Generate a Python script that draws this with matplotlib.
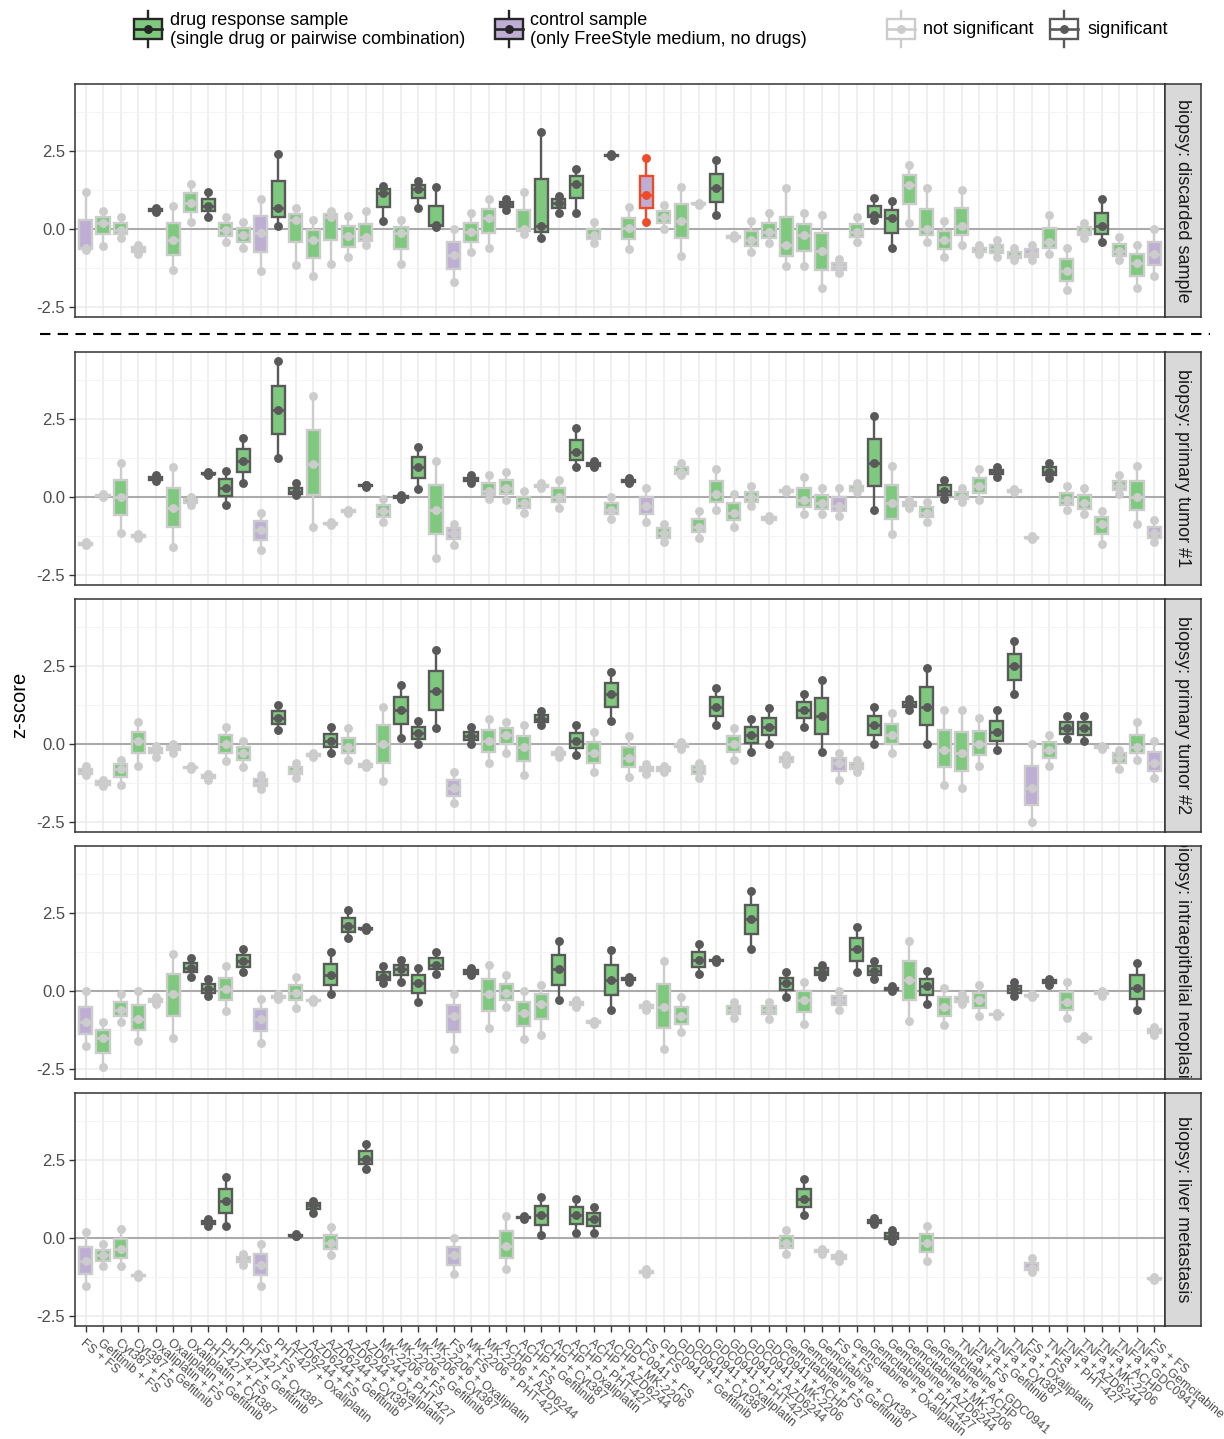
import matplotlib
matplotlib.use("Agg")
import matplotlib.pyplot as plt
import numpy as np
from matplotlib.patches import Rectangle

plt.rcParams["font.family"] = ["Liberation Sans", "DejaVu Sans"]

# ---------------------------------------------------------------------------
# Conditions (x axis) and per-biopsy z-scores (three replicates: low/mid/high)
# sig: n = not significant, s = significant, x = flagged control, . = no data
# ---------------------------------------------------------------------------

LABELS = [
    "FS + FS", "Gefitinib + FS", "Cyt387 + FS", "Cyt387 + Gefitinib",
    "Oxaliplatin + FS", "Oxaliplatin + Gefitinib", "Oxaliplatin + Cyt387",
    "PHT-427 + FS", "PHT-427 + Gefitinib", "PHT-427 + Cyt387", "FS + FS",
    "PHT-427 + Oxaliplatin", "AZD6244 + FS", "AZD6244 + Gefitinib",
    "AZD6244 + Cyt387", "AZD6244 + Oxaliplatin", "AZD6244 + PHT-427",
    "MK-2206 + FS", "MK-2206 + Gefitinib", "MK-2206 + Cyt387",
    "MK-2206 + Oxaliplatin", "FS + FS", "MK-2206 + PHT-427",
    "MK-2206 + AZD6244", "ACHP + FS", "ACHP + Gefitinib", "ACHP + Cyt387",
    "ACHP + Oxaliplatin", "ACHP + PHT-427", "ACHP + AZD6244",
    "ACHP + MK-2206", "GDC0941 + FS", "FS + FS", "GDC0941 + Gefitinib",
    "GDC0941 + Cyt387", "GDC0941 + Oxaliplatin", "GDC0941 + PHT-427",
    "GDC0941 + AZD6244", "GDC0941 + MK-2206", "GDC0941 + ACHP",
    "Gemcitabine + FS", "Gemcitabine + Gefitinib", "Gemcitabine + Cyt387",
    "FS + FS", "Gemcitabine + Oxaliplatin", "Gemcitabine + PHT-427",
    "Gemcitabine + AZD6244", "Gemcitabine + MK-2206", "Gemcitabine + ACHP",
    "Gemcitabine + GDC0941", "TNFa + FS", "TNFa + Gefitinib",
    "TNFa + Cyt387", "TNFa + Oxaliplatin", "FS + FS", "TNFa + PHT-427",
    "TNFa + AZD6244", "TNFa + MK-2206", "TNFa + ACHP", "TNFa + GDC0941",
    "TNFa + Gemcitabine", "FS + FS",
]

STRIPS = [
    "biopsy: discarded sample",
    "biopsy: primary tumor #1",
    "biopsy: primary tumor #2",
    "biopsy: intraepithelial neoplasia",
    "biopsy: liver metastasis",
]

DISC_LO = [-0.66, -0.53, -0.30, -0.81, 0.55, -1.31, 0.24, 0.40, -0.40, -0.62,
           -1.34, 0.10, -1.15, -1.50, -1.13, -0.91, -0.51, 0.26, -1.12, 0.69,
           0.07, -1.71, -0.75, -0.60, 0.60, -0.15, -0.30, 0.50, 0.50, -0.45,
           2.33, -0.65, 0.24, 0.00, -0.85, 0.78, 0.45, -0.30, -0.75, -0.45,
           -1.20, -1.20, -1.90, -1.40, -0.40, 0.30, -0.60, 0.20, -0.40, -0.90,
           -0.50, -0.80, -0.90, -1.00, -1.00, -0.80, -1.95, -0.30, -0.40, -1.00,
           -1.90, -1.50]
DISC_MED = [-0.62, 0.18, -0.02, -0.65, 0.60, -0.35, 0.85, 0.74, -0.03, -0.20,
            -0.14, 0.66, 0.29, -0.35, 0.40, -0.22, -0.25, 1.16, -0.14, 1.28,
            0.13, -0.83, -0.10, 0.35, 0.80, 0.00, 0.10, 0.85, 1.46, -0.20,
            2.36, 0.02, 1.10, 0.37, 0.25, 0.80, 1.30, -0.25, -0.35, -0.10,
            -0.50, -0.20, -0.70, -1.20, -0.10, 0.45, 0.35, 1.40, 0.00, -0.35,
            0.10, -0.70, -0.65, -0.85, -0.80, -0.40, -1.35, -0.10, 0.10, -0.70,
            -1.10, -0.80]
DISC_HI = [1.18, 0.58, 0.40, -0.52, 0.68, 0.75, 1.43, 1.20, 0.40, 0.24,
           0.96, 2.40, 0.66, 0.30, 0.58, 0.43, 0.58, 1.38, 0.29, 1.55,
           1.34, 0.00, 0.50, 0.95, 0.95, 1.20, 3.10, 1.05, 1.91, 0.23,
           2.40, 0.71, 2.27, 0.77, 1.36, 0.84, 2.21, -0.20, 0.25, 0.50,
           1.30, 0.50, 0.45, -0.95, 0.40, 1.00, 0.90, 2.05, 1.30, 0.25,
           1.25, -0.50, -0.35, -0.60, -0.50, 0.45, -0.60, 0.20, 0.95, -0.25,
           -0.50, 0.00]
DISC_SIG = "nnnnsnnsnn" "nsnnnnnsns" "snnnsnsssn" "snxnnnsnnn" "nnnnnssnnn" "nnnnnnnnsn" "nn"

TUM1_LO = [-1.55, 0.00, -1.15, -1.30, 0.50, -1.60, -0.25, 0.70, -0.25, 0.45,
           -1.70, 1.25, 0.05, -0.95, -0.90, -0.50, 0.33, -0.80, -0.05, 0.25,
           -1.95, -1.55, 0.45, -0.05, -0.10, -0.50, 0.30, -0.35, 0.95, 0.95,
           -0.70, 0.45, -0.80, -1.45, 0.70, -1.30, -0.40, -0.95, -0.30, -0.75,
           0.15, -0.55, -0.55, -0.60, 0.15, -0.40, -1.20, -0.35, -0.80, -0.05,
           -0.15, -0.10, 0.65, 0.15, -1.35, 0.60, -0.40, -0.55, -1.50, 0.10,
           -0.85, -1.45]
TUM1_MED = [-1.50, 0.05, 0.00, -1.25, 0.60, -0.35, -0.15, 0.75, 0.30, 1.15,
            -1.05, 2.80, 0.15, 1.05, -0.85, -0.45, 0.37, -0.45, 0.00, 0.95,
            -0.40, -1.15, 0.55, 0.20, 0.30, -0.20, 0.35, 0.00, 1.45, 1.05,
            -0.40, 0.50, -0.30, -1.15, 0.80, -0.95, 0.10, -0.50, 0.00, -0.70,
            0.20, -0.10, -0.20, -0.30, 0.25, 1.10, -0.20, -0.20, -0.50, 0.20,
            0.00, 0.35, 0.80, 0.20, -1.30, 0.80, -0.10, -0.20, -0.85, 0.35,
            0.00, -1.15]
TUM1_HI = [-1.45, 0.10, 1.10, -1.20, 0.70, 0.95, 0.00, 0.80, 0.85, 1.90,
           -0.50, 4.35, 0.45, 3.25, -0.80, -0.40, 0.40, -0.05, 0.05, 1.60,
           1.15, -0.85, 0.70, 0.70, 0.80, 0.20, 0.45, 0.55, 2.20, 1.15,
           0.00, 0.60, 0.30, -0.85, 1.10, -0.45, 0.90, 0.10, 0.35, -0.60,
           0.25, 0.65, 0.30, 0.30, 0.45, 2.60, 1.00, -0.10, -0.15, 0.55,
           0.30, 0.90, 0.95, 0.25, -1.25, 1.10, 0.35, 0.30, -0.45, 0.70,
           1.00, -0.75]
TUM1_SIG = "nnnnsnnsss" "nssnnnsnss" "nnsnnnnnss" "nsnnnnnnnn" "nnnnnsnnns" "nnsnnsnnnn" "nn"

TUM2_LO = [-1.00, -1.35, -1.30, -0.70, -0.40, -0.30, -0.80, -1.15, -0.55, -0.75,
           -1.45, 0.45, -1.10, -0.40, -0.30, -0.50, -0.75, -1.20, 0.20, 0.00,
           0.50, -1.90, 0.00, -0.60, -0.30, -1.00, 0.60, -0.40, -0.35, -0.90,
           0.75, -1.05, -0.95, -0.90, -0.15, -1.10, 0.60, -0.50, -0.25, 0.00,
           -0.65, 0.55, -0.25, -1.15, -0.90, 0.00, -0.30, 1.10, 0.00, -1.30,
           -1.40, -0.70, -0.20, 1.60, -2.50, -0.70, 0.15, 0.10, -0.15, -0.80,
           -0.50, -1.10]
TUM2_MED = [-0.90, -1.25, -0.80, 0.10, -0.20, -0.10, -0.75, -1.05, 0.00, -0.30,
            -1.25, 0.85, -0.85, -0.35, 0.10, -0.10, -0.70, 0.00, 1.10, 0.35,
            1.70, -1.40, 0.25, 0.10, 0.30, -0.10, 0.80, -0.30, 0.10, -0.30,
            1.60, -0.45, -0.80, -0.80, -0.05, -0.80, 1.20, 0.00, 0.30, 0.55,
            -0.50, 1.10, 0.90, -0.60, -0.70, 0.60, 0.30, 1.25, 1.20, -0.20,
            -0.30, 0.00, 0.40, 2.50, -1.40, -0.20, 0.50, 0.50, -0.10, -0.40,
            -0.10, -0.60]
TUM2_HI = [-0.70, -1.15, -0.50, 0.70, -0.05, 0.00, -0.70, -0.95, 0.55, 0.10,
           -1.00, 1.25, -0.60, -0.30, 0.55, 0.50, -0.60, 1.20, 1.90, 0.75,
           3.00, -0.90, 0.55, 0.80, 0.70, 0.60, 1.05, -0.20, 0.60, 0.40,
           2.30, 0.25, -0.65, -0.70, 0.05, -0.60, 1.80, 0.50, 0.80, 1.15,
           -0.35, 1.60, 2.05, -0.30, -0.50, 1.20, 1.00, 1.45, 2.45, 1.10,
           1.10, 0.85, 1.10, 3.30, 0.00, 0.30, 0.90, 0.90, -0.05, -0.20,
           0.70, 0.10]
TUM2_SIG = "nnnnnnnnnn" "nsnnsnnnss" "snsnnnsnsn" "snnnnnsnss" "nssnnsnssn" "nnssnnssnn" "nn"

NEO_LO = [-1.75, -2.45, -1.00, -1.60, -0.40, -1.50, 0.45, -0.15, -0.65, 0.60,
          -1.65, -0.25, -0.55, -0.35, -0.10, 1.70, 1.95, 0.25, 0.30, -0.35,
          0.55, -1.85, 0.50, -1.20, -0.50, -1.55, -1.40, -0.30, -0.50, -1.05,
          -0.60, 0.30, -0.60, -1.85, -1.30, 0.55, 0.93, -0.85, 1.35, -0.90,
          -0.20, -1.05, 0.45, -0.60, 0.60, 0.40, 0.00, -0.95, -0.40, -1.10,
          -0.40, -0.80, -0.80, -0.15, -0.20, 0.20, -0.85, -1.55, -0.15, None,
          -0.60, -1.40]
NEO_MED = [-1.00, -1.50, -0.60, -0.90, -0.30, -0.10, 0.75, 0.05, 0.05, 0.95,
           -0.90, -0.20, -0.05, -0.30, 0.50, 2.10, 2.00, 0.45, 0.70, 0.25,
           0.85, -0.80, 0.60, -0.10, -0.05, -0.70, -0.40, 0.70, -0.40, -1.00,
           0.35, 0.38, -0.50, -0.50, -0.80, 1.00, 0.98, -0.60, 2.30, -0.60,
           0.25, -0.30, 0.60, -0.30, 1.35, 0.65, 0.07, 0.35, 0.15, -0.50,
           -0.30, -0.30, -0.75, 0.05, -0.15, 0.30, -0.35, -1.50, -0.05, None,
           0.10, -1.30]
NEO_HI = [0.00, -1.00, -0.10, 0.00, -0.20, 1.20, 1.05, 0.40, 0.80, 1.35,
          -0.25, -0.10, 0.45, -0.25, 1.25, 2.60, 2.05, 0.80, 1.00, 0.75,
          1.25, -0.10, 0.75, 0.85, 0.50, 0.00, 0.20, 1.60, -0.30, -0.95,
          1.30, 0.45, -0.40, 0.95, -0.20, 1.50, 1.02, -0.35, 3.20, -0.35,
          0.60, 0.30, 0.85, 0.00, 2.05, 0.95, 0.15, 1.60, 0.65, 0.10,
          -0.10, 0.20, -0.70, 0.30, -0.10, 0.40, 0.30, -1.45, 0.00, None,
          0.90, -1.15]
NEO_SIG = "nnnnnnssns" "nnnnssssss" "snsnnnnsnn" "ssnnnssnsn" "snsnsssnsn" "nnnsnsnnn." "sn"

LIV_LO = [-1.55, -0.90, -0.90, -1.25, None, None, None, 0.40, 0.40, -0.85,
          -1.55, None, 0.05, 0.80, -0.55, None, 2.20, None, None, None,
          None, -1.15, None, None, -1.00, 0.62, 0.10, None, 0.15, 0.15,
          None, None, -1.15, None, None, None, None, None, None, None,
          -0.50, 0.75, -0.50, -0.75, None, 0.45, -0.10, None, -0.75, None,
          None, None, None, None, -1.10, None, None, None, None, None,
          None, -1.35]
LIV_MED = [-0.75, -0.55, -0.35, -1.20, None, None, None, 0.50, 1.20, -0.70,
           -0.85, None, 0.08, 1.05, -0.15, None, 2.55, None, None, None,
           None, -0.55, None, None, -0.25, 0.66, 0.75, None, 0.75, 0.60,
           None, None, -1.10, None, None, None, None, None, None, None,
           -0.15, 1.25, -0.40, -0.60, None, 0.50, 0.05, None, -0.15, None,
           None, None, None, None, -0.95, None, None, None, None, None,
           None, -1.30]
LIV_HI = [0.20, -0.20, 0.30, -1.15, None, None, None, 0.60, 1.95, -0.50,
          -0.20, None, 0.12, 1.20, 0.35, None, 3.00, None, None, None,
          None, 0.00, None, None, 0.70, 0.70, 1.30, None, 1.25, 1.00,
          None, None, -1.00, None, None, None, None, None, None, None,
          0.25, 1.90, -0.35, -0.50, None, 0.65, 0.25, None, 0.40, None,
          None, None, None, None, -0.65, None, None, None, None, None,
          None, -1.25]
LIV_SIG = "nnnn...ssn" "n.ssn.s..." ".n..nss.ss" "..n......." "nsnn.ss.n." "....n....." ".n"

PANELS = [
    (DISC_LO, DISC_MED, DISC_HI, DISC_SIG),
    (TUM1_LO, TUM1_MED, TUM1_HI, TUM1_SIG),
    (TUM2_LO, TUM2_MED, TUM2_HI, TUM2_SIG),
    (NEO_LO, NEO_MED, NEO_HI, NEO_SIG),
    (LIV_LO, LIV_MED, LIV_HI, LIV_SIG),
]

GREEN = "#7FC97F"
PURPLE = "#BEAED4"
EDGE = {"n": "#CCCCCC", "s": "#595959", "x": "#EE4B2B"}
TEXT = "#4D4D4D"

# ---------------------------------------------------------------------------
# Layout (pixel coordinates of the final 1224 x 1439 image)
# ---------------------------------------------------------------------------
W, H = 1224, 1439
PANEL_L, PANEL_R, STRIP_R = 75, 1165, 1201
ROWS = [(84, 317), (352, 585), (599, 832), (846, 1079), (1093, 1326)]
YLIM = (-2.82, 4.65)
BOX_W = 0.75


def rect(x0, y0, x1, y1):
    return [x0 / W, 1 - y1 / H, (x1 - x0) / W, (y1 - y0) / H]


def draw_panel(ax, lo, med, hi, sig, show_x):
    n = len(LABELS)
    for x in range(n):
        ax.axvline(x, color="#EBEBEB", lw=1.1, zorder=0)
    for y in (-2.5, 0.0, 2.5):
        ax.axhline(y, color="#EBEBEB", lw=1.1, zorder=0)
    for y in (-1.25, 1.25, 3.75):
        ax.axhline(y, color="#F3F3F3", lw=0.6, zorder=0)
    ax.axhline(0, color="#ABABAB", lw=1.5, zorder=1)

    for i in range(n):
        if sig[i] == "." or med[i] is None:
            continue
        vals = np.array([lo[i], med[i], hi[i]], dtype=float)
        q1, q2, q3 = np.percentile(vals, [25, 50, 75])
        ec = EDGE[sig[i]]
        fc = PURPLE if LABELS[i] == "FS + FS" else GREEN
        ax.plot([i, i], [vals.min(), q1], color=ec, lw=1.7, zorder=2,
                solid_capstyle="butt")
        ax.plot([i, i], [q3, vals.max()], color=ec, lw=1.7, zorder=2,
                solid_capstyle="butt")
        ax.add_patch(Rectangle((i - BOX_W / 2, q1), BOX_W, q3 - q1,
                               facecolor=fc, edgecolor=ec, lw=1.7, zorder=3))
        ax.plot([i - BOX_W / 2, i + BOX_W / 2], [q2, q2], color=ec, lw=1.9,
                zorder=4, solid_capstyle="butt")
        ax.plot([i] * 3, vals, "o", ms=6.4, color=ec, mec="none", zorder=5)

    ax.set_xlim(-0.6, n - 0.4)
    ax.set_ylim(*YLIM)
    ax.set_yticks([-2.5, 0.0, 2.5])
    ax.set_yticklabels(["-2.5", "0.0", "2.5"], fontsize=12, color=TEXT)
    ax.tick_params(axis="y", length=4, width=1, color="#333333", pad=3)
    ax.set_xticks(range(n))
    if show_x:
        ax.set_xticklabels(LABELS, rotation=-40, ha="left", va="top",
                           rotation_mode="anchor", fontsize=9, color=TEXT)
        ax.tick_params(axis="x", length=4, width=1, color="#333333", pad=4)
    else:
        ax.tick_params(axis="x", bottom=False, labelbottom=False)
    for sp in ax.spines.values():
        sp.set_color("#333333")
        sp.set_linewidth(1.1)


fig = plt.figure(figsize=(W / 100, H / 100), dpi=100)

for k, ((top, bottom), (lo, med, hi, sig), strip) in enumerate(zip(ROWS, PANELS, STRIPS)):
    ax = fig.add_axes(rect(PANEL_L, top, PANEL_R, bottom))
    draw_panel(ax, lo, med, hi, sig, show_x=(k == len(ROWS) - 1))

    sax = fig.add_axes(rect(PANEL_R, top, STRIP_R, bottom))
    sax.set_facecolor("#D9D9D9")
    sax.set_xticks([])
    sax.set_yticks([])
    for sp in sax.spines.values():
        sp.set_color("#333333")
        sp.set_linewidth(1.1)
    sax.text(0.5, 0.5, strip, rotation=-90, ha="center", va="center",
             fontsize=13, color="#1A1A1A", transform=sax.transAxes,
             clip_on=True)

fig.text(20 / W, 1 - 705 / H, "z-score", rotation=90, ha="center",
         va="center", fontsize=14.5, color="black")

# overlay in pixel units for the legend and the separator line
ov = fig.add_axes([0, 0, 1, 1], zorder=10)
ov.set_xlim(0, W)
ov.set_ylim(H, 0)
ov.axis("off")

ov.plot([40, 1210], [334, 334], color="black", lw=1.5, ls=(0, (5, 3.5)))


def legend_key(x0, fc, ec):
    w, cy = 28, 29
    ov.plot([x0 + w / 2, x0 + w / 2], [11, 47], color=ec, lw=1.7, zorder=1)
    ov.add_patch(Rectangle((x0, cy - 10), w, 20, facecolor=fc, edgecolor=ec,
                           lw=1.7, zorder=2))
    ov.plot([x0, x0 + w], [cy, cy], color=ec, lw=1.9, zorder=3)
    ov.plot([x0 + w / 2], [cy], "o", ms=6.4, color=ec, mec="none", zorder=4)


LEG_FS = 13
legend_key(134, GREEN, "#262626")
ov.text(170, 30, "drug response sample\n(single drug or pairwise combination)",
        ha="left", va="center", fontsize=LEG_FS, linespacing=1.12)
legend_key(495, PURPLE, "#262626")
ov.text(530, 30, "control sample\n(only FreeStyle medium, no drugs)",
        ha="left", va="center", fontsize=LEG_FS, linespacing=1.12)
legend_key(887, "white", "#CCCCCC")
ov.text(923, 30, "not significant", ha="left", va="center", fontsize=LEG_FS)
legend_key(1050, "white", "#595959")
ov.text(1087, 30, "significant", ha="left", va="center", fontsize=LEG_FS)

fig.savefig("out.png", dpi=100, facecolor="white")
